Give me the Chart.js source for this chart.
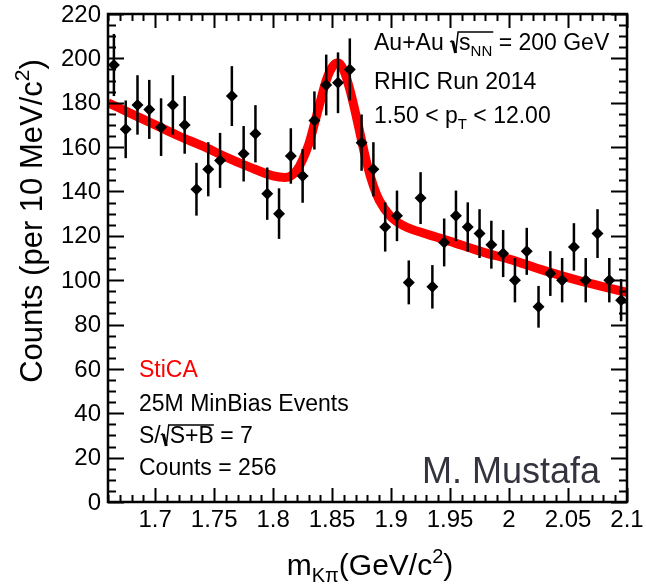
<!DOCTYPE html>
<html>
<head>
<meta charset="utf-8">
<script src="https://cdn.jsdelivr.net/npm/chart.js@4.4.0/dist/chart.umd.min.js"></script>
<style>
  html, body { margin: 0; padding: 0; background: #fff; }
  #wrap { width: 646px; height: 588px; }
</style>
</head>
<body>
<div id="wrap"><canvas id="massChart" width="646" height="588"></canvas></div>
<script>
// bin centres (GeV/c^2), counts per 10 MeV and their errors
var massBins = [1.665, 1.675, 1.685, 1.695, 1.705, 1.715, 1.725, 1.735, 1.745, 1.755,
                1.765, 1.775, 1.785, 1.795, 1.805, 1.815, 1.825, 1.835, 1.845, 1.855,
                1.865, 1.875, 1.885, 1.895, 1.905, 1.915, 1.925, 1.935, 1.945, 1.955,
                1.965, 1.975, 1.985, 1.995, 2.005, 2.015, 2.025, 2.035, 2.045, 2.055,
                2.065, 2.075, 2.085, 2.095];
var counts = [197, 168, 179, 177, 169, 179, 170, 141, 150, 154,
              183, 157, 166, 139, 130, 156, 147, 172, 188, 189,
              195, 162, 150, 124, 129, 99, 137, 97, 117, 129,
              124, 121, 116, 112, 100, 113, 88, 103, 100, 115,
              100, 121, 100, 91];
var countErr = [14.0, 13.0, 13.4, 13.3, 13.0, 13.4, 13.0, 11.9, 12.2, 12.4,
                13.5, 12.5, 12.9, 11.8, 11.4, 12.5, 12.1, 13.1, 13.7, 13.7,
                14.0, 12.7, 12.2, 11.1, 11.4, 9.9, 11.7, 9.8, 10.8, 11.4,
                11.1, 11.0, 10.8, 10.6, 10.0, 10.6, 9.4, 10.1, 10.0, 10.7,
                10.0, 11.0, 10.0, 9.5];

// fit curve
var fitMass = [1.66, 1.68, 1.70, 1.72, 1.74, 1.76, 1.78, 1.80, 1.81, 1.82,
               1.83, 1.835, 1.84, 1.845, 1.85, 1.855, 1.86, 1.865, 1.87, 1.875,
               1.88, 1.885, 1.89, 1.90, 1.91, 1.93, 1.95, 1.98, 2.0, 2.03,
               2.06, 2.1];
var fitCounts = [180, 175, 170, 165, 160.5, 155.5, 151, 147, 146.3, 149.5,
                 161, 170.5, 180.5, 190, 196, 198, 194.5, 186, 175, 163,
                 151.5, 142.5, 136, 128.5, 124.7, 120.8, 117.5, 112.3, 109.5, 104.3,
                 99.7, 94.5];

var xTicks = [1.7, 1.75, 1.8, 1.85, 1.9, 1.95, 2, 2.05, 2.1];
var xTickLabels = ['1.7', '1.75', '1.8', '1.85', '1.9', '1.95', '2', '2.05', '2.1'];
var yTicks = [0, 20, 40, 60, 80, 100, 120, 140, 160, 180, 200, 220];

var FONT = '"Liberation Sans", Arial, Helvetica, sans-serif';

function setFont(ctx, size) {
  ctx.font = size + 'px ' + FONT;
}

// draws a list of [text, size, dy] pieces from x, returns end x
function richText(ctx, parts, x, y) {
  var cx = x;
  parts.forEach(function(p) {
    setFont(ctx, p[1]);
    ctx.fillText(p[0], cx, y + (p[2] || 0));
    cx += ctx.measureText(p[0]).width;
  });
  return cx;
}

function richWidth(ctx, parts) {
  var w = 0;
  parts.forEach(function(p) {
    setFont(ctx, p[1]);
    w += ctx.measureText(p[0]).width;
  });
  return w;
}

// ROOT-like #sqrt sign, returns x where the radicand starts
function radical(ctx, x, base, h, overW) {
  ctx.save();
  ctx.lineJoin = 'miter';
  ctx.lineCap = 'butt';
  ctx.lineWidth = 1.5;
  ctx.beginPath();
  ctx.moveTo(x, base - h * 0.45);
  ctx.lineTo(x + 2.5, base - h * 0.52);
  ctx.stroke();
  ctx.lineWidth = 3;
  ctx.beginPath();
  ctx.moveTo(x + 2.5, base - h * 0.5);
  ctx.lineTo(x + 5.5, base + 3);
  ctx.stroke();
  ctx.lineWidth = 1.5;
  ctx.beginPath();
  ctx.moveTo(x + 5.5, base + 3);
  ctx.lineTo(x + 8, base - h);
  ctx.lineTo(x + 9 + overW, base - h);
  ctx.stroke();
  ctx.restore();
  return x + 9;
}

var rootStyle = {
  id: 'rootStyle',
  beforeDatasetDraw: function(chart, args) {
    if (args.index !== 0) return;
    var ctx = chart.ctx, xs = chart.scales.x, ys = chart.scales.y;
    ctx.save();
    ctx.strokeStyle = '#000';
    ctx.lineWidth = 2.5;
    for (var i = 0; i < massBins.length; i++) {
      var px = xs.getPixelForValue(massBins[i]);
      ctx.beginPath();
      ctx.moveTo(px, ys.getPixelForValue(counts[i] - countErr[i]));
      ctx.lineTo(px, ys.getPixelForValue(counts[i] + countErr[i]));
      ctx.stroke();
    }
    ctx.restore();
  },
  afterDraw: function(chart) {
    var ctx = chart.ctx, xs = chart.scales.x, ys = chart.scales.y;
    var a = chart.chartArea;
    var i, p, len;
    ctx.save();
    ctx.strokeStyle = '#000';
    ctx.fillStyle = '#000';

    // ticks, pointing inward on all four sides
    ctx.lineWidth = 2;
    ctx.beginPath();
    for (i = 0; i <= 220; i += 5) {
      p = Math.round(ys.getPixelForValue(i)) + 0.5;
      len = (i % 20 === 0) ? 16 : 8;
      ctx.moveTo(a.left, p); ctx.lineTo(a.left + len, p);
      ctx.moveTo(a.right, p); ctx.lineTo(a.right - len, p);
    }
    for (i = 166; i <= 210; i++) {
      p = Math.round(xs.getPixelForValue(i / 100)) + 0.5;
      len = (i % 5 === 0) ? 14 : 7;
      ctx.moveTo(p, a.bottom); ctx.lineTo(p, a.bottom - len);
      ctx.moveTo(p, a.top); ctx.lineTo(p, a.top + len);
    }
    ctx.stroke();

    // frame
    ctx.lineWidth = 2.5;
    ctx.strokeRect(a.left, a.top, a.right - a.left, a.bottom - a.top);

    // tick labels
    setFont(ctx, 24);
    ctx.textAlign = 'right';
    ctx.textBaseline = 'middle';
    yTicks.forEach(function(v) {
      ctx.fillText(String(v), 101, ys.getPixelForValue(v) + 1);
    });
    ctx.textAlign = 'center';
    ctx.textBaseline = 'alphabetic';
    xTicks.forEach(function(v, k) {
      ctx.fillText(xTickLabels[k], xs.getPixelForValue(v), 527);
    });

    // axis titles
    ctx.textAlign = 'left';
    var xt = [['m', 30], ['K\u03C0', 20, 7], ['(GeV/c', 30], ['2', 20, -12], [')', 30]];
    richText(ctx, xt, 370 - richWidth(ctx, xt) / 2, 575);

    var yt = [['Counts (per 10 MeV/c', 31], ['2', 21, -13], [')', 31]];
    ctx.save();
    ctx.translate(42, 221);
    ctx.rotate(-Math.PI / 2);
    richText(ctx, yt, -richWidth(ctx, yt) / 2, 0);
    ctx.restore();

    // top-right labels
    var x0 = 374, cx;
    cx = richText(ctx, [['Au+Au ', 23]], x0, 50);
    setFont(ctx, 23);
    var sW = ctx.measureText('s').width;
    setFont(ctx, 15);
    var nnW = ctx.measureText('NN').width;
    cx = radical(ctx, cx, 50, 18, sW + nnW + 1);
    richText(ctx, [['s', 23], ['NN', 15, 6], [' = 200 GeV', 23]], cx, 50);
    richText(ctx, [['RHIC Run 2014', 23]], x0, 89);
    richText(ctx, [['1.50 < p', 23], ['T', 15, 6], [' < 12.00', 23]], x0, 123);

    // bottom-left labels
    var x1 = 139;
    ctx.fillStyle = '#ff0000';
    richText(ctx, [['StiCA', 23]], x1, 377);
    ctx.fillStyle = '#000';
    richText(ctx, [['25M MinBias Events', 23]], x1, 411);
    cx = richText(ctx, [['S/', 23]], x1, 443);
    setFont(ctx, 23);
    cx = radical(ctx, cx, 443, 18, ctx.measureText('S+B').width);
    richText(ctx, [['S+B', 23], [' = 7', 23]], cx, 443);
    richText(ctx, [['Counts = 256', 23]], x1, 475);

    ctx.fillStyle = '#34343f';
    richText(ctx, [['M. Mustafa', 36]], 422, 483);
    ctx.restore();
  }
};

var ctx = document.getElementById('massChart');
var chart = new Chart(ctx, {
  type: 'line',
  data: {
    datasets: [{
      label: 'data',
      type: 'scatter',
      data: massBins.map(function(m, i) { return { x: m, y: counts[i] }; }),
      pointStyle: 'rectRot',
      pointRadius: 6,
      backgroundColor: '#000',
      borderColor: '#000',
      borderWidth: 0,
      showLine: false,
      order: 0
    }, {
      label: 'fit',
      data: fitMass.map(function(m, i) { return { x: m, y: fitCounts[i] }; }),
      borderColor: '#ff0000',
      borderWidth: 9,
      pointRadius: 0,
      fill: false,
      cubicInterpolationMode: 'monotone',
      clip: 0,
      order: 1
    }]
  },
  options: {
    responsive: false,
    animation: false,
    layout: { padding: { left: 108, right: 19, top: 14, bottom: 86 } },
    plugins: { legend: { display: false }, tooltip: { enabled: false } },
    scales: {
      x: { type: 'linear', min: 1.66, max: 2.1, display: false },
      y: { type: 'linear', min: 0, max: 220, display: false }
    }
  },
  plugins: [rootStyle]
});
</script>
</body>
</html>
